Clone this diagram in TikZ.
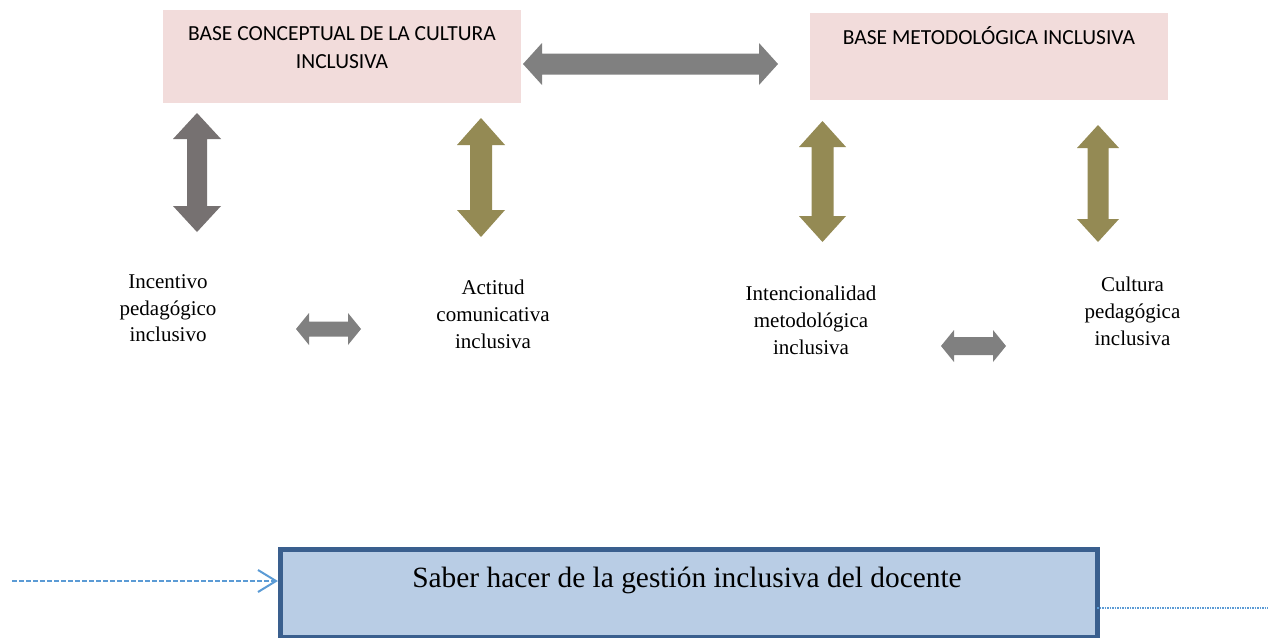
\documentclass[tikz,border=0pt]{standalone}
\usepackage{fontspec}
\setmainfont{Liberation Serif}
\newfontfamily\calibrifont{Carlito}
\usetikzlibrary{arrows.meta,calc}
\definecolor{pinkfill}{HTML}{F2DCDB}
\definecolor{greyA}{HTML}{767171}
\definecolor{greyB}{HTML}{808080}
\definecolor{olive}{HTML}{948A54}
\definecolor{bluefill}{HTML}{B9CDE5}
\definecolor{blueborder}{HTML}{3A5F8E}
\definecolor{linkblue}{HTML}{5B9BD5}
% vertical double block arrow: colour, xc, ytop, ybot, shaft half, head half, head length
\newcommand{\VDArrow}[7]{%
  \fill[#1] (#2,#3) -- (#2+#6,#3+#7) -- (#2+#5,#3+#7) -- (#2+#5,#4-#7) -- (#2+#6,#4-#7)
   -- (#2,#4) -- (#2-#6,#4-#7) -- (#2-#5,#4-#7) -- (#2-#5,#3+#7) -- (#2-#6,#3+#7) -- cycle;}
% horizontal double block arrow: colour, yc, xleft, xright, shaft half, head half, head length
\newcommand{\HDArrow}[7]{%
  \fill[#1] (#3,#2) -- (#3+#7,#2-#6) -- (#3+#7,#2-#5) -- (#4-#7,#2-#5) -- (#4-#7,#2-#6)
   -- (#4,#2) -- (#4-#7,#2+#6) -- (#4-#7,#2+#5) -- (#3+#7,#2+#5) -- (#3+#7,#2+#6) -- cycle;}
\begin{document}
\begin{tikzpicture}[x=1pt,y=-1pt,
  pinkbox/.style={fill=pinkfill, draw=none, inner sep=0pt, anchor=north west},
  boxtxt/.style={font=\calibrifont\fontsize{21.5}{28}\selectfont, align=center, inner sep=0pt, anchor=base},
  lbl/.style={font=\fontsize{21}{26.6}\selectfont, align=center, inner sep=0pt, anchor=base},
  mainbox/.style={fill=bluefill, draw=blueborder, line width=4.5pt, inner sep=0pt, anchor=north west},
  maintxt/.style={font=\fontsize{29.4}{34}\selectfont, inner sep=0pt, anchor=base},
  dashlink/.style={draw=linkblue, line width=2.2pt, dash pattern=on 5pt off 2pt},
  openhead/.style={draw=linkblue, line width=2pt},
  dotlink/.style={draw=linkblue, line width=1.2pt, dash pattern=on 1.5pt off 1pt}]
\useasboundingbox (0,0) rectangle (1268,637);
\fill[white] (0,0) rectangle (1268,637);

% top boxes
\node[pinkbox, minimum width=358pt, minimum height=93pt] (b1) at (163,10) {};
\node[boxtxt] (b1t) at (342,68) {BASE CONCEPTUAL DE LA CULTURA\\INCLUSIVA};
\node[pinkbox, minimum width=358pt, minimum height=87pt] (b2) at (810,13) {};
\node[boxtxt] (b2t) at (989,44) {BASE METODOLÓGICA INCLUSIVA};

% block arrows
\HDArrow{greyB}{64}{523}{778}{10.5}{21}{19}
\VDArrow{greyA}{197}{113}{232}{10}{24}{26}
\VDArrow{olive}{481}{118}{237}{11}{24}{27}
\VDArrow{olive}{822.5}{121}{242}{11}{23.5}{26}
\VDArrow{olive}{1098}{125}{242}{10.5}{21}{23}
\HDArrow{greyB}{329}{296}{361}{7.5}{16}{13}
\HDArrow{greyB}{346}{941}{1006}{9}{16}{13}

% labels (anchor base = baseline of last line)
\node[lbl] (l1) at (168,341.7) {Incentivo\\pedagógico\\inclusivo};
\node[lbl] (l2) at (493,348) {Actitud\\comunicativa\\inclusiva};
\node[lbl] (l3) at (811,354) {Intencionalidad\\metodológica\\inclusiva};
\node[lbl] (l4) at (1132.5,345) {Cultura\\pedagógica\\inclusiva};

% bottom box
\node[mainbox, minimum width=817pt, minimum height=88pt] (mb) at (278,547) {};
\node[maintxt] (mbt) at (687,587) {Saber hacer de la gestión inclusiva del docente};

% links
\coordinate (dstart) at (12,581);
\coordinate (dend) at (276,581);
\draw[dashlink] (dstart) -- (dend);
\draw[openhead] ($(dend)+(-18,-11)$) -- (dend) -- ($(dend)+(-18,11)$);
\coordinate (rstart) at (1097,608);
\coordinate (rend) at (1268,608);
\draw[dotlink] (rstart) -- (rend);
\end{tikzpicture}
\end{document}
